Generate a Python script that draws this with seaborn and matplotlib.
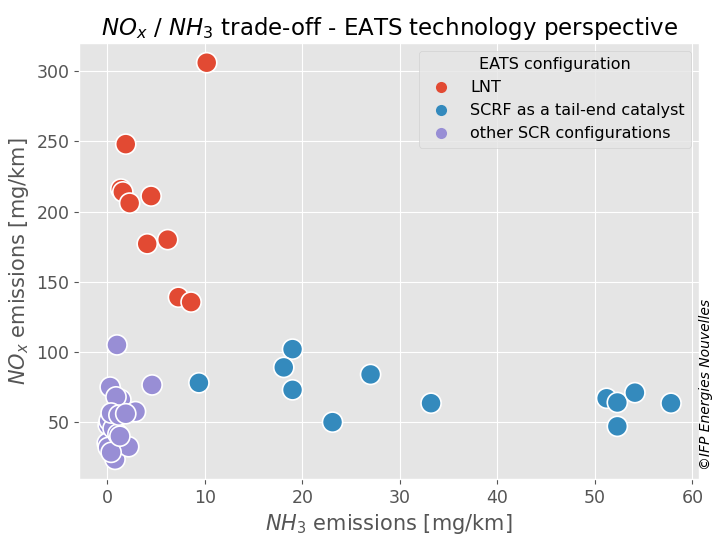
import pandas as pd
import seaborn as sns
import matplotlib.pyplot as plt

# NH3 / NOx emissions per vehicle, mg/km
lnt_nh3 = [10.2, 1.9, 1.4, 1.6, 2.3, 4.5, 4.1, 6.2, 7.3, 8.6]
lnt_nox = [306, 248, 216, 214, 206, 211, 177, 180, 139, 135.5]

scrf_nh3 = [9.4, 19.0, 18.1, 19.0, 23.1, 27.0, 33.2, 51.2, 52.3, 54.1, 52.3, 57.8]
scrf_nox = [78, 102, 89, 73, 50, 84, 63.5, 67, 64, 71, 47, 63.5]

other_nh3 = [0.5, 0.1, 0.2, 0.0, 0.1, 0.6, 1.1, 0.8, 1.0, 4.6, 0.3, 1.4,
             0.9, 2.9, 0.4, 1.2, 2.2, 1.9, 0.4, 1.3]
other_nox = [52, 48, 51, 35, 32, 45.5, 41.5, 23.5, 105, 76.5, 75, 66,
             68, 57.5, 56.5, 55, 32.5, 56, 28.5, 40]

labels = ["LNT", "SCRF as a tail-end catalyst", "other SCR configurations"]

df = pd.DataFrame({
    "NH3": lnt_nh3 + scrf_nh3 + other_nh3,
    "NOx": lnt_nox + scrf_nox + other_nox,
    "EATS configuration": [labels[0]] * len(lnt_nh3) + [labels[1]] * len(scrf_nh3)
                          + [labels[2]] * len(other_nh3),
})

plt.style.use("ggplot")
plt.rcParams["font.family"] = ["DejaVu Sans"]

fig = plt.figure(figsize=(7.12, 5.36), dpi=100)
ax = fig.add_axes([0.111, 0.106, 0.871, 0.814])
sns.scatterplot(data=df, x="NH3", y="NOx", hue="EATS configuration",
                hue_order=labels, palette=["#E24A33", "#348ABD", "#988ED5"],
                s=210, edgecolor="white", linewidth=1.2, ax=ax)

ax.set_title("$NO_x$ / $NH_3$ trade-off - EATS technology perspective", fontsize=16.5, color="black")
ax.set_xlabel("$NH_3$ emissions [mg/km]", fontsize=15)
ax.set_ylabel("$NO_x$ emissions [mg/km]", fontsize=15)
ax.tick_params(labelsize=12.5)
leg = ax.legend(title="EATS configuration", loc="upper right", fontsize=11.5, title_fontsize=11.5)
for h in leg.legend_handles:
    h.set_markersize(8)
    h.set_markeredgewidth(0)

fig.text(0.992, 0.123, "\u00a9IFP Energies Nouvelles", rotation=90, style="italic",
         fontsize=10, ha="center", va="bottom")

plt.savefig("out.png", dpi=100)
